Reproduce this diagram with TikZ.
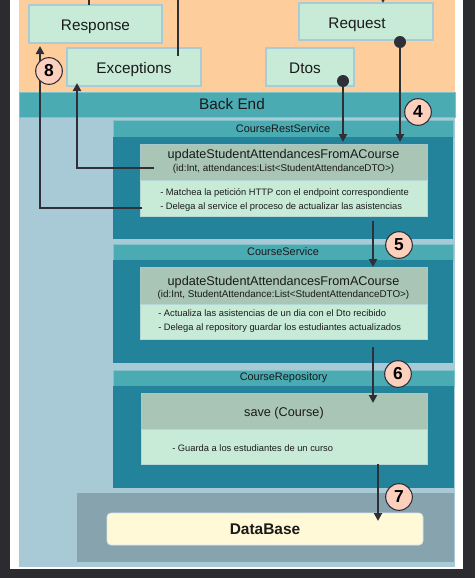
\documentclass[tikz,border=0pt]{standalone}
\usepackage{fontspec}
\setmainfont{Liberation Sans}
\usetikzlibrary{arrows.meta,calc}
\definecolor{frameC}{HTML}{2B2B30}
\definecolor{orangeC}{HTML}{FECD9C}
\definecolor{greenC}{HTML}{C8EBD8}
\definecolor{greenEdge}{HTML}{A8CCD6}
\definecolor{barC}{HTML}{4AABB2}
\definecolor{barEdge}{HTML}{7FC3C8}
\definecolor{blueBg}{HTML}{A8CAD6}
\definecolor{panelC}{HTML}{22839A}
\definecolor{headC}{HTML}{A9C5B5}
\definecolor{dbOuter}{HTML}{87A3AE}
\definecolor{dbC}{HTML}{FFF9D8}
\definecolor{numC}{HTML}{FDD0BE}
\definecolor{lineC}{HTML}{2F2F38}
\definecolor{txtC}{HTML}{1A1A1A}
\begin{document}
\begin{tikzpicture}[x=0.75pt,y=-0.75pt,
  sz/.style 2 args={minimum width=#1*0.75pt, minimum height=#2*0.75pt},
  base/.style={anchor=north west, inner sep=0pt, outer sep=0pt, text=txtC},
  topbox/.style={base, fill=greenC, draw=greenEdge, line width=0.8pt, font=\fontsize{11.5}{13}\selectfont, text height=9.8pt, text depth=0pt},
  bar/.style={base, fill=barC, draw=barEdge, line width=0.6pt},
  panel/.style={base, fill=panelC},
  head/.style={base, fill=headC, draw=greenEdge!60!headC, line width=0.5pt},
  body/.style={base, fill=greenC, draw=greenEdge!60!greenC, line width=0.5pt},
  mname/.style={inner sep=0pt, text=txtC, font=\fontsize{9.5}{11}\selectfont},
  mparams/.style={inner sep=0pt, text=txtC, font=\fontsize{7.4}{8.5}\selectfont},
  btxt/.style={anchor=west, inner sep=0pt, text=txtC, font=\fontsize{7}{8}\selectfont},
  ttl/.style={font=\fontsize{8.2}{9.5}\selectfont},
  conn/.style={draw=lineC, line width=1.5pt},
  arr/.style={conn, -{Triangle[length=6pt,width=6pt]}},
  dot/.style={fill=lineC},
  num/.style={circle, draw=lineC, line width=0.8pt, fill=numC, minimum size=20pt, inner sep=0pt, text=black, font=\bfseries\fontsize{13}{14}\selectfont}
]
\useasboundingbox (0,0) rectangle (475,578);
% background
\fill[frameC] (0,0) rectangle (475,578);
\fill[white] (10,-2) rectangle (463,569);
\fill[blueBg] (19,117) rectangle (455,567);
\fill[orangeC] (19,-2) rectangle (455,92);

% top boxes
\node[topbox, sz={133}{38}] (response) at (29,5) {Response};
\node[topbox, sz={134}{38}] (exceptions) at (67,48) {Exceptions};
\node[topbox, sz={134}{37}] (request) at (299,3) {Request\hspace*{13.5pt}};
\node[topbox, sz={88}{38}] (dtos) at (266,48) {Dtos\hspace*{7.5pt}};

% Back End bar
\node[bar, sz={436}{25}, font=\fontsize{11.5}{13}\selectfont] (backend) at (19,92) {Back End\hspace*{7.5pt}};

% CourseRestService
\node[bar, sz={340}{17}, ttl] (t1) at (113,120) {CourseRestService};
\node[panel, sz={340}{102}] (p1) at (113,137) {};
\node[head, sz={287}{36}] (h1) at (140,144) {};
\node[body, sz={287}{36}] (b1) at (140,180) {};
\node[mname] (h1n) at (283.5,155) {updateStudentAttendancesFromACourse};
\node[mparams] (h1p) at (283.5,169) {(id:Int, attendances:List<StudentAttendanceDTO>)};
\node[btxt] (b1a) at (160,193) {- Matchea la petición HTTP con el endpoint correspondiente};
\node[btxt] (b1b) at (160,207) {- Delega al service el proceso de actualizar las asistencias};

% CourseService
\node[bar, sz={340}{16}, ttl] (t2) at (113,244) {CourseService};
\node[panel, sz={340}{103}] (p2) at (113,260) {};
\node[head, sz={287}{37}] (h2) at (140,267) {};
\node[body, sz={287}{35}] (b2) at (140,304) {};
\node[mname] (h2n) at (283.5,282) {updateStudentAttendancesFromACourse};
\node[mparams] (h2p) at (283.5,295) {(id:Int, StudentAttendance:List<StudentAttendanceDTO>)};
\node[btxt] (b2a) at (158,313) {- Actualiza las asistencias de un dia con el Dto recibido};
\node[btxt] (b2b) at (158,328) {- Delega al repository guardar los estudiantes actualizados};

% CourseRepository
\node[bar, sz={341}{16}, ttl] (t3) at (113,370) {CourseRepository};
\node[panel, sz={341}{102}] (p3) at (113,386) {};
\node[head, sz={286}{36}] (h3) at (141,393) {};
\node[body, sz={286}{35}] (b3) at (141,429) {};
\node[mname] (h3n) at (284,413) {save (Course)};
\node[btxt] (b3a) at (172,448) {- Guarda a los estudiantes de un curso};

% DataBase
\node[base, fill=dbOuter, sz={377}{69}] (dbo) at (77,493) {};
\node[base, fill=dbC, draw=greenEdge!50!white, line width=0.5pt, rounded corners=3pt, sz={316}{32}, font=\bfseries\fontsize{11.6}{13}\selectfont] (db) at (107,513) {DataBase};

% top connectors
\coordinate (topR) at (89,-2);
\coordinate (topE) at (178,-2);
\coordinate (topQ) at (383,-8);
\draw[conn] (topR) -- (response.north -| topR);
\draw[conn] (topE) -- ($(exceptions.north -| topE)+(0,8)$);
\draw[arr] (topQ) -- (request.north -| topQ);

% request / dtos dots and arrows
\coordinate (dReq) at (400,42);
\coordinate (dDto) at (343,81);
\draw[arr, shorten >=1.5pt] (dReq) -- (h1.north -| dReq);
\draw[arr, shorten >=1.5pt] (dDto) -- (h1.north -| dDto);
\fill[dot] (dReq) circle[radius=4.5pt];
\fill[dot] (dDto) circle[radius=4.5pt];

% flow arrows
\coordinate (s5) at (373,221);
\draw[arr] (s5) -- (h2.north -| s5);
\coordinate (s6) at (373,347);
\draw[arr] (s6) -- ($(h3.north -| s6)+(0,10)$);
\coordinate (s7) at (378,464);
\draw[arr] (b3.south -| s7) -- ($(db.north -| s7)+(0,8)$);

% return arrows
\coordinate (s8) at (142,208);
\draw[arr] (s8) -| ($(response.south west)+(11,3)$);
\coordinate (sE) at (154,168);
\draw[arr] (sE) -| ($(exceptions.south west)+(10,-3)$);

% numbers
\node[num] (n8) at (49,71) {8};
\node[num] (n4) at (418,112) {4};
\node[num] (n5) at (399,245) {5};
\node[num] (n6) at (398,374) {6};
\node[num] (n7) at (399,497) {7};
\end{tikzpicture}
\end{document}
